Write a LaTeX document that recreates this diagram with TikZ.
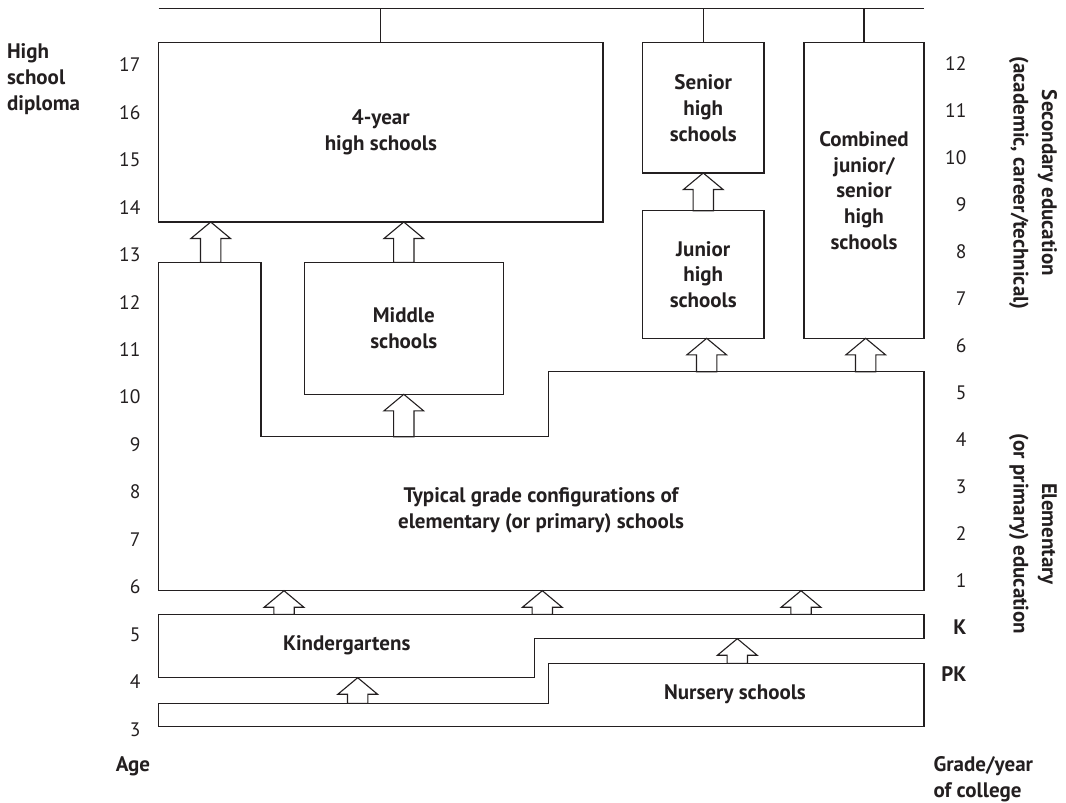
\documentclass[tikz,border=0pt]{standalone}
\usepackage{fontspec}
\setmainfont{PT Sans}
\usetikzlibrary{calc}
\definecolor{ink}{RGB}{35,31,32}
\newcommand{\lblfont}{\fontsize{21}{25.8}\selectfont\bfseries}
\newcommand{\sidefont}{\fontsize{21}{28.5}\selectfont\bfseries}
\newcommand{\numfont}{\fontsize{19.5}{25.5}\selectfont}
% hollow block arrow: #1 = tip point, #2 = point on the foot line
\newcommand{\blockarrow}[2]{%
  \draw[blockarr] let \p1=#1, \p2=#2 in
    (\x1,\y1) -- (\x1+19.8pt,\y1-16.5pt) -- (\x1+10.2pt,\y1-16.5pt) -- (\x1+10.2pt,\y2)
    -- (\x1-10.2pt,\y2) -- (\x1-10.2pt,\y1-16.5pt) -- (\x1-19.8pt,\y1-16.5pt) -- cycle;}
\begin{document}
\begin{tikzpicture}[x=1pt,y=-1pt,line width=1.1pt,color=ink,
  box/.style={draw,inner sep=0pt,outer sep=0pt,align=center,font=\lblfont},
  lbl/.style={inner sep=0pt,align=center,font=\lblfont},
  agenum/.style={anchor=east,inner sep=0pt,font=\numfont},
  gradenum/.style={anchor=east,inner sep=0pt,font=\numfont},
  blockarr/.style={draw,fill=white,line join=miter}]
\useasboundingbox (0,0) rectangle (1066,803);

% secondary schools
\node[box,minimum width=444.3pt,minimum height=179.3pt] (hs4) at (380.85,132.35) {4-year\\high schools};
\node[box,minimum width=121.5pt,minimum height=130.3pt] (senior) at (703.25,107.85) {Senior\\high\\schools};
\node[box,minimum width=121.5pt,minimum height=127.6pt] (junior) at (703.25,274.5) {Junior\\high\\schools};
\node[box,minimum width=120pt,minimum height=295.6pt] (comb) at (864,190.5) {Combined\\junior/\\senior\\high\\schools};
\node[box,minimum width=199pt,minimum height=132pt] (mid) at (403.8,328.3) {Middle\\schools};

% diploma line across the top
\coordinate (topL) at (158.7,8.5);
\coordinate (topR) at (924,8.5);
\draw (topL) -- (topR);
\draw (hs4.north) -- (hs4.north |- topL);
\draw (senior.north) -- (senior.north |- topL);
\draw (comb.north) -- (comb.north |- topL);

% elementary schools
\draw (158.5,262.3) -- (261,262.3) -- (261,436.7) -- (548.3,436.7) -- (548.3,371.7)
  -- (924,371.7) -- (924,590.7) -- (158.5,590.7) -- cycle;
\node[lbl] (elem) at (541,510) {Typical grade configurations of\\elementary (or primary) schools};

% kindergartens
\draw (158.5,614.3) -- (924,614.3) -- (924,638.7) -- (534.3,638.7) -- (534.3,677.7)
  -- (158.5,677.7) -- cycle;
\node[lbl] (kind) at (346.7,645.5) {Kindergartens};

% nursery schools
\draw (158.5,703.3) -- (548.3,703.3) -- (548.3,663.3) -- (924,663.3) -- (924,726.7)
  -- (158.5,726.7) -- cycle;
\node[lbl] (nurs) at (735,694) {Nursery schools};

% arrow feet and edges
\coordinate (e1) at (210.7,262.3);
\coordinate (e2) at (403.8,436.7);
\coordinate (e3) at (706.7,371.7);
\coordinate (e4) at (865.7,371.7);
\coordinate (ebot) at (158.5,590.7);
\coordinate (k1) at (284,614.3);
\coordinate (k2) at (542.3,614.3);
\coordinate (k3) at (801,614.3);
\coordinate (kb1) at (158.5,677.7);
\coordinate (kb2) at (924,638.7);
\coordinate (n1) at (357.7,703.3);
\coordinate (n2) at (737.3,663.3);

\blockarrow{(hs4.south -| e1)}{(e1)}
\blockarrow{(hs4.south -| mid.north)}{(mid.north)}
\blockarrow{(mid.south)}{(e2)}
\blockarrow{(senior.south)}{(junior.north)}
\blockarrow{(junior.south -| e3)}{(e3)}
\blockarrow{(comb.south -| e4)}{(e4)}
\blockarrow{(ebot -| k1)}{(k1)}
\blockarrow{(ebot -| k2)}{(k2)}
\blockarrow{(ebot -| k3)}{(k3)}
\blockarrow{(kb1 -| n1)}{(n1)}
\blockarrow{(kb2 -| n2)}{(n2)}

% age scale
\foreach \a in {3,...,17}{
  \node[agenum] (age\a) at (141,{729.3-(\a-3)*47.45}) {\a};
}
% grade scale
\foreach \g in {1,...,12}{
  \node[gradenum] (grade\g) at (967,{580.7-(\g-1)*47.04}) {\g};
}
\node[gradenum,font=\lblfont] (gK) at (967,627) {K};
\node[gradenum,font=\lblfont] (gPK) at (967,674) {PK};

% side captions
\node[lbl,align=left,anchor=west] (dipl) at (6.5,79) {High\\school\\diploma};
\node[lbl] (agecap) at (133,766) {Age};
\node[lbl,align=left,anchor=west] (gradecap) at (933,779) {Grade/year\\of college};
\node[lbl,rotate=-90,font=\sidefont] (seccap) at (1033,183)
  {Secondary education\\(academic, career/technical)};
\node[lbl,rotate=-90,font=\sidefont] (elemcap) at (1033,534)
  {Elementary\\(or primary) education};
\end{tikzpicture}
\end{document}
